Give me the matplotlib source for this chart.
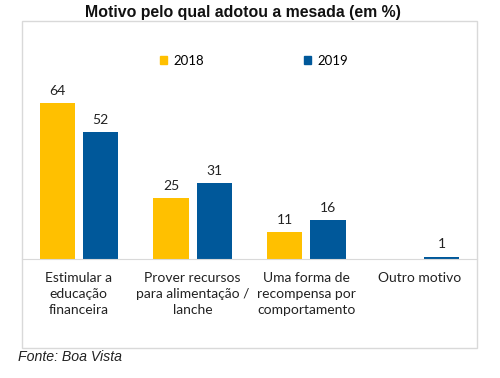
import matplotlib
matplotlib.use("Agg")
import matplotlib.pyplot as plt
from matplotlib.patches import Rectangle, Patch
import numpy as np

categories = ["Estimular a\neducação\nfinanceira",
              "Prover recursos\npara alimentação /\nlanche",
              "Uma forma de\nrecompensa por\ncomportamento",
              "Outro motivo"]
years = ["2018", "2019"]
v2018 = [64, 25, 11, 0]
v2019 = [52, 31, 16, 1]
labels2018 = ["64", "25", "11", ""]
labels2019 = ["52", "31", "16", "1"]
colors = ["#FFC000", "#00589A"]

fig = plt.figure(figsize=(5, 3.78), dpi=100)
W, H = 500, 378

def fx(px): return px / W
def fy(py): return 1 - py / H

# outer box
fig.patches.append(Rectangle((fx(22), fy(348)), fx(477) - fx(22), fy(21) - fy(348),
                             transform=fig.transFigure, fill=False,
                             edgecolor="#D9D9D9", linewidth=1.0))

ax = fig.add_axes([fx(22), fy(259), fx(477) - fx(22), fy(21) - fy(259)])
x = np.arange(len(categories))
bw = 0.31
off = 0.19
b1 = ax.bar(x - off, v2018, bw, color=colors[0], label=years[0])
b2 = ax.bar(x + off, v2019, bw, color=colors[1], label=years[1])
for bars, labs in ((b1, labels2018), (b2, labels2019)):
    for r, lab in zip(bars, labs):
        if lab:
            ax.annotate(lab, (r.get_x() + r.get_width() / 2, r.get_height()),
                        xytext=(0, 4.5), textcoords="offset points",
                        ha="center", va="bottom", fontsize=10,
                        family="Lato", color="#222222")
ax.set_xlim(-0.5, 3.5)
ax.set_ylim(0, 97.5)
ax.set_yticks([])
ax.set_xticks(x)
ax.set_xticklabels(categories, fontsize=10, family="Lato", color="#222222",
                   linespacing=1.45)
ax.tick_params(axis="x", length=0, pad=9)
for s in ["top", "right", "left"]:
    ax.spines[s].set_visible(False)
ax.spines["bottom"].set_color("#D9D9D9")
ax.patch.set_alpha(0)

handles = [Patch(color=colors[0], label=years[0]), Patch(color=colors[1], label=years[1])]
leg = ax.legend(handles=handles, loc="center",
                bbox_to_anchor=((fx(254) - fx(22)) / (fx(477) - fx(22)),
                                (fy(61) - fy(259)) / (fy(21) - fy(259))),
                ncol=2, frameon=False, handlelength=0.55, handleheight=0.55,
                handletextpad=0.45, columnspacing=7.6,
                prop={"family": "Lato", "size": 9.5})

fig.text(fx(243), fy(13), "Motivo pelo qual adotou a mesada (em %)", ha="center", va="center",
         fontsize=11.4, fontweight="bold", family="Liberation Sans", color="#111111")
fig.text(fx(18), fy(357), "Fonte: Boa Vista", ha="left", va="center",
         fontsize=10.2, style="italic", family="Liberation Sans", color="#222222")

fig.savefig("out.png", dpi=100)
